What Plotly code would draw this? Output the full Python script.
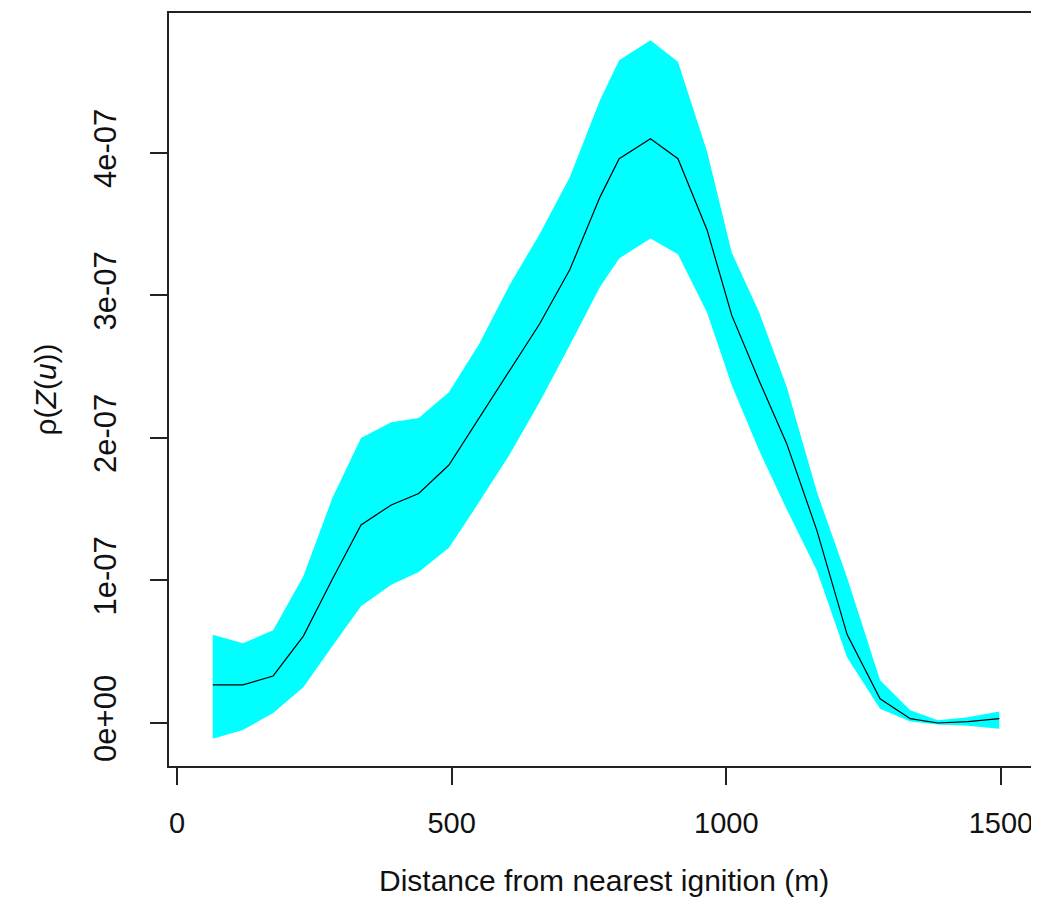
import numpy as np
import plotly.graph_objects as go

# Distance from nearest ignition (m)
distance = [65, 120, 175, 230, 283, 335, 390, 440, 495, 550, 605, 660, 715, 770,
            805, 862, 912, 965, 1010, 1060, 1110, 1165, 1220, 1280, 1335, 1385, 1440, 1497]
# estimates in units of 1e-07
rho_mean = [0.267, 0.267, 0.33, 0.61, 1.01, 1.39, 1.53, 1.61, 1.81, 2.14, 2.47, 2.80, 3.18, 3.69,
            3.96, 4.10, 3.96, 3.46, 2.86, 2.40, 1.96, 1.35, 0.62, 0.17, 0.03, 0.00, 0.01, 0.03]
rho_upper = [0.62, 0.56, 0.65, 1.03, 1.58, 2.00, 2.11, 2.14, 2.32, 2.66, 3.07, 3.43, 3.83, 4.37,
             4.65, 4.79, 4.64, 4.01, 3.30, 2.88, 2.36, 1.62, 1.02, 0.30, 0.09, 0.02, 0.04, 0.08]
rho_lower = [-0.11, -0.05, 0.07, 0.25, 0.54, 0.82, 0.97, 1.06, 1.23, 1.55, 1.88, 2.25, 2.65, 3.06,
             3.26, 3.40, 3.29, 2.88, 2.37, 1.91, 1.50, 1.07, 0.46, 0.10, 0.01, -0.01, -0.02, -0.04]
UNIT = 1e-07

x_ticks = [0, 500, 1000, 1500]
y_tickvals = [0, 1e-07, 2e-07, 3e-07, 4e-07]
y_ticktext = ["0e+00", "1e-07", "2e-07", "3e-07", "4e-07"]

x = np.array(distance, dtype=float)
mean = np.array(rho_mean) * UNIT
upper = np.array(rho_upper) * UNIT
lower = np.array(rho_lower) * UNIT

FONT = "Liberation Sans, Arial, sans-serif"

fig = go.Figure()
fig.add_trace(go.Scatter(x=x, y=lower, mode="lines", line=dict(width=0, color="#00FFFF"),
                         showlegend=False, hoverinfo="skip"))
fig.add_trace(go.Scatter(x=x, y=upper, mode="lines", line=dict(width=0, color="#00FFFF"),
                         fill="tonexty", fillcolor="#00FFFF", showlegend=False, hoverinfo="skip"))
fig.add_trace(go.Scatter(x=x, y=mean, mode="lines", line=dict(width=1.2, color="black"),
                         showlegend=False))

# page body has an 8px margin, so the figure is placed at (8, 8)
W, H = 1031, 914
L, R, T, B = 161, 1, 5, 156
PW = W - L - R
PH = H - T - B

fig.update_layout(
    width=W, height=H,
    margin=dict(l=L, r=R, t=T, b=B, autoexpand=False),
    paper_bgcolor="white", plot_bgcolor="white",
    font=dict(family=FONT, size=30, color="#111111"),
    xaxis=dict(range=[-14.6, 1567.5], tickvals=x_ticks, ticktext=[str(v) for v in x_ticks],
               showgrid=False, zeroline=False, showline=True, mirror=True,
               linecolor="#222222", linewidth=2, ticks="outside", ticklen=17,
               tickwidth=1.5, tickcolor="#222222", ticklabelstandoff=13,
               tickfont=dict(family=FONT, size=29, color="#111111")),
    yaxis=dict(range=[-0.3018e-07, 4.982e-07], tickvals=y_tickvals, ticktext=y_ticktext,
               tickangle=-90, showgrid=False, zeroline=False, showline=True, mirror=True,
               linecolor="#222222", linewidth=2, ticks="outside", ticklen=17,
               tickwidth=1.5, tickcolor="#222222", ticklabelstandoff=22,
               tickfont=dict(family=FONT, size=31, color="#111111")),
    annotations=[
        dict(text="Distance from nearest ignition (m)", xref="paper", yref="paper",
             x=0.5, y=-(872 - (T + PH)) / PH, xanchor="center", yanchor="middle",
             showarrow=False, font=dict(family=FONT, size=30, color="#111111")),
        dict(text="ρ(<i>Z</i>(<i>u</i>))", xref="paper", yref="paper",
             x=(37 - L) / PW, y=0.5, xanchor="center", yanchor="middle",
             textangle=-90, showarrow=False, font=dict(family=FONT, size=30, color="#111111")),
    ],
)

fig.write_html("out.html")
